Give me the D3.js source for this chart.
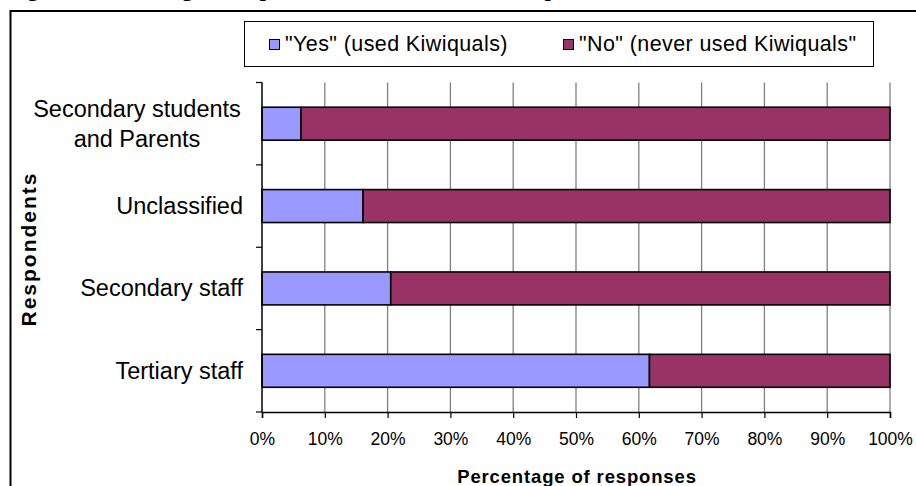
<!DOCTYPE html>
<html>
<head>
<meta charset="utf-8">
<script src="https://cdn.jsdelivr.net/npm/d3@7"></script>
<style>
  body { margin: 0; background: #fff; }
  svg text { font-family: "Liberation Sans", Arial, sans-serif; fill: #000; }
</style>
</head>
<body>
<svg id="chart" width="916" height="486"></svg>
<script>
var categories = ['Secondary students|and Parents', 'Unclassified', 'Secondary staff', 'Tertiary staff']
var yesValues = [6.2, 16.1, 20.5, 61.7]
var noValues = [93.8, 83.9, 79.5, 38.3]
var seriesNames = ['"Yes" (used Kiwiquals)', '"No" (never used Kiwiquals"']
var seriesColors = ['#9999ff', '#993366']
var xTicks = [0, 10, 20, 30, 40, 50, 60, 70, 80, 90, 100]

var svg = d3.select('#chart')

// figure caption, mostly cut off above the frame
svg.append('text')
  .attr('x', 8).attr('y', -4.5)
  .style('font-family', '"Liberation Serif", serif')
  .style('font-weight', 'bold').style('font-size', '22px')
  .text('Figure 4: Percentage of respondents who have used Kiwiquals')

// outer frame
svg.append('path')
  .attr('d', 'M10.5,486 V11 H916')
  .attr('fill', 'none').attr('stroke', '#000').attr('stroke-width', 2)

var plotLeft = 262, plotRight = 890, plotTop = 82.5, plotBottom = 412

var x = d3.scaleLinear().domain([0, 100]).range([plotLeft, plotRight])
var y = d3.scaleBand().domain(categories).range([plotTop, plotBottom]).paddingInner(0.6).paddingOuter(0.3)

// grid
svg.append('g').selectAll('line')
  .data(xTicks.slice(1))
  .enter().append('line')
  .attr('x1', d => x(d)).attr('x2', d => x(d))
  .attr('y1', plotTop).attr('y2', plotBottom)
  .attr('stroke', '#808080').attr('stroke-width', 1.3)

var stacks = categories.map((c, i) => [
  { cat: c, x0: 0, x1: yesValues[i], color: seriesColors[0] },
  { cat: c, x0: yesValues[i], x1: yesValues[i] + noValues[i], color: seriesColors[1] }
])

svg.append('g').selectAll('rect')
  .data(d3.merge(stacks))
  .enter().append('rect')
  .attr('x', d => x(d.x0))
  .attr('width', d => x(d.x1) - x(d.x0))
  .attr('y', d => y(d.cat))
  .attr('height', y.bandwidth())
  .attr('fill', d => d.color)
  .attr('stroke', '#000').attr('stroke-width', 1.6)

// x axis
var xAxis = svg.append('g')
  .attr('transform', 'translate(0,' + plotBottom + ')')
  .call(d3.axisBottom(x).tickValues(xTicks).tickFormat(d => d + '%').tickSize(6).tickPadding(15))
xAxis.select('.domain').attr('stroke', '#000').attr('stroke-width', 1.5)
xAxis.selectAll('.tick line').attr('stroke', '#000').attr('stroke-width', 1.2)
xAxis.selectAll('text').style('font-size', '17.5px').style('font-family', '"Liberation Sans", Arial, sans-serif')

// y axis: ticks sit between categories
var step = y.step()
var yTicks = d3.range(categories.length + 1).map(i => plotTop + i * step)
svg.append('line')
  .attr('x1', plotLeft).attr('x2', plotLeft).attr('y1', plotTop).attr('y2', plotBottom)
  .attr('stroke', '#000').attr('stroke-width', 1.5)
svg.append('g').selectAll('line')
  .data(yTicks)
  .enter().append('line')
  .attr('x1', plotLeft - 6).attr('x2', plotLeft)
  .attr('y1', d => d).attr('y2', d => d)
  .attr('stroke', '#000').attr('stroke-width', 1.2)

svg.append('g').selectAll('text')
  .data(categories)
  .enter().append('text')
  .style('font-size', '23.5px')
  .each(function(d) {
    var lines = d.split('|')
    var t = d3.select(this)
    var cy = y(d) + y.bandwidth() / 2
    if (lines.length == 1) {
      t.attr('x', 243).attr('y', cy + 8).attr('text-anchor', 'end').text(d)
    } else {
      t.attr('text-anchor', 'middle')
      lines.forEach((l, i) => {
        t.append('tspan')
          .attr('x', 137)
          .attr('y', cy - 7 + i * 30)
          .text(l)
      })
    }
  })

svg.append('text')
  .attr('transform', 'translate(36,249) rotate(-90)')
  .attr('text-anchor', 'middle')
  .style('font-weight', 'bold').style('font-size', '21px').style('letter-spacing', '2px')
  .text('Respondents')

svg.append('text')
  .attr('x', 577).attr('y', 483)
  .attr('text-anchor', 'middle')
  .style('font-weight', 'bold').style('font-size', '18.5px').style('letter-spacing', '0.85px')
  .text('Percentage of responses')

// legend
var legend = svg.append('g')
legend.append('rect')
  .attr('x', 244.5).attr('y', 21.5).attr('width', 629).attr('height', 45)
  .attr('fill', '#fff').attr('stroke', '#000').attr('stroke-width', 1)
var legX = [269, 563]
seriesNames.forEach((s, i) => {
  legend.append('rect')
    .attr('x', legX[i] + 0.5).attr('y', 39.5).attr('width', 10).attr('height', 10)
    .attr('fill', seriesColors[i]).attr('stroke', '#000').attr('stroke-width', 1)
  legend.append('text')
    .attr('x', legX[i] + 16).attr('y', 51)
    .style('font-size', '21.5px').style('letter-spacing', '0.4px')
    .text(s)
})
</script>
</body>
</html>
